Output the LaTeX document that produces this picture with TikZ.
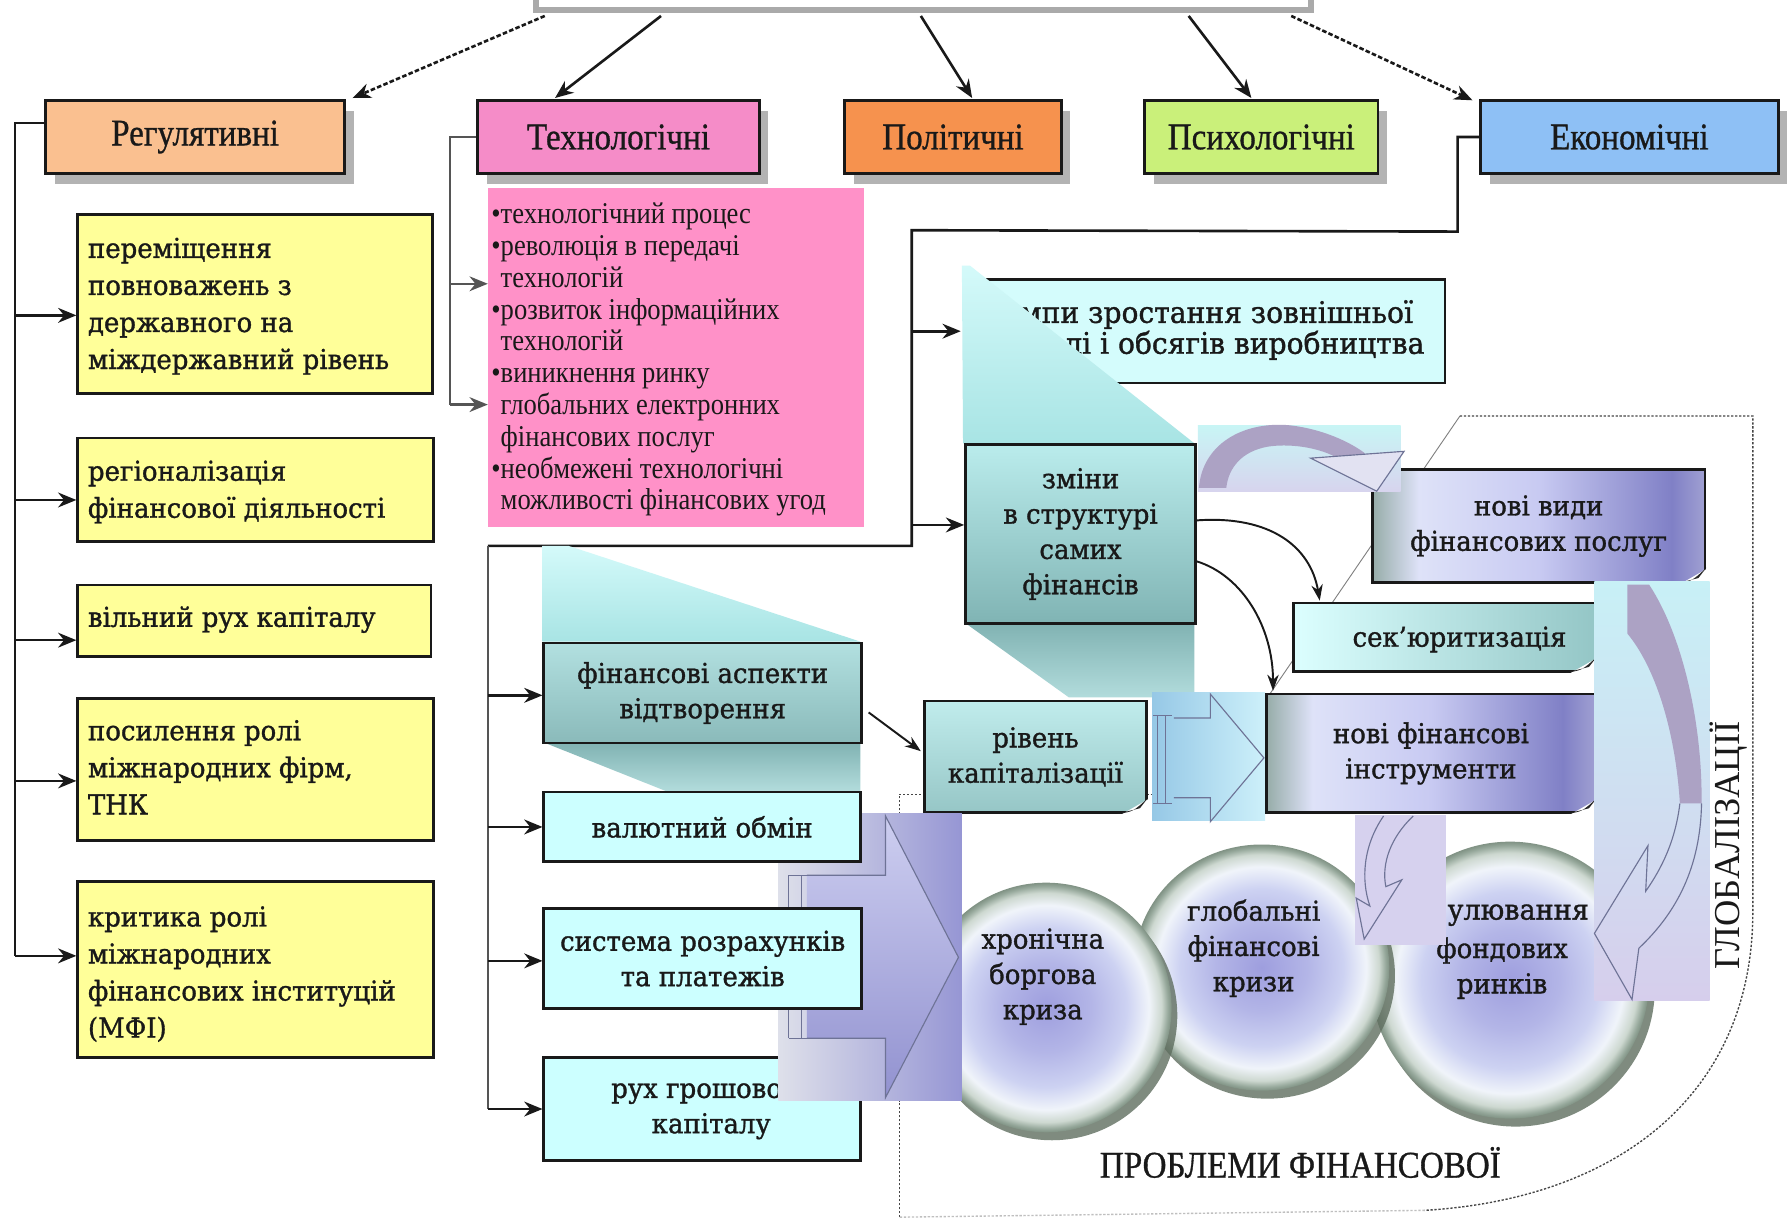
\documentclass[tikz,border=0pt]{standalone}
\usepackage{fontspec}
\setmainfont{Liberation Serif}
\newfontfamily\catf{Liberation Serif}[FakeStretch=0.88,FakeBold=0.8]
\newfontfamily\pinkf{Liberation Serif}[FakeStretch=0.88]
\newfontfamily\boxf{DejaVu Serif}[FakeStretch=0.95,FakeBold=1.2]
\usetikzlibrary{arrows.meta,shadows,calc,shapes.geometric}
\definecolor{ink}{RGB}{25,25,25}
\definecolor{cReg}{RGB}{250,192,144}
\definecolor{cTech}{RGB}{245,140,200}
\definecolor{cPol}{RGB}{246,146,78}
\definecolor{cPsy}{RGB}{202,240,122}
\definecolor{cEko}{RGB}{142,192,245}
\definecolor{cYel}{RGB}{255,255,153}
\definecolor{cPink}{RGB}{255,145,200}
\definecolor{cCyan}{RGB}{204,255,255}
\definecolor{tmA}{RGB}{212,252,252}
\definecolor{tlA}{RGB}{186,236,236}
\definecolor{tlB}{RGB}{128,180,180}
\definecolor{p1A}{RGB}{212,250,250}
\definecolor{p1B}{RGB}{168,228,228}
\definecolor{p2A}{RGB}{128,178,178}
\definecolor{p2B}{RGB}{178,220,220}
\definecolor{lvA}{RGB}{150,172,168}
\definecolor{lvB}{RGB}{222,226,248}
\definecolor{lvC}{RGB}{200,202,242}
\definecolor{lvD}{RGB}{128,128,198}
\definecolor{lvE}{RGB}{160,160,210}
\definecolor{skA}{RGB}{220,255,255}
\definecolor{skB}{RGB}{148,198,198}
\definecolor{sphC}{RGB}{158,158,222}
\definecolor{sphM}{RGB}{205,210,242}
\definecolor{sphL}{RGB}{240,244,250}
\definecolor{sphR1}{RGB}{205,216,208}
\definecolor{sphR2}{RGB}{150,168,155}
\definecolor{sphR3}{RGB}{128,146,132}
\definecolor{shg}{RGB}{95,110,95}
\definecolor{arrl}{RGB}{110,115,150}
\definecolor{bodyc}{RGB}{172,162,196}
\definecolor{lineg}{RGB}{85,85,85}
\definecolor{lavR1}{RGB}{222,224,234}
\definecolor{lavR2}{RGB}{150,150,212}
\definecolor{lavS1}{RGB}{205,206,240}
\definecolor{lavS2}{RGB}{146,146,208}
\definecolor{blA}{RGB}{150,200,230}
\definecolor{blB}{RGB}{205,240,250}
\definecolor{ca1}{RGB}{200,245,245}
\definecolor{ca2}{RGB}{215,212,238}
\definecolor{ca3}{RGB}{200,240,246}
\definecolor{ca4}{RGB}{214,206,236}
\definecolor{dnr}{RGB}{214,209,238}
\definecolor{headf}{RGB}{226,226,242}
\pgfdeclareradialshading{sphere}{\pgfpoint{0bp}{0bp}}{color(0bp)=(sphC); color(9bp)=(sphC!55!sphM); color(16bp)=(sphM); color(20.5bp)=(sphL); color(23bp)=(sphR1); color(24.3bp)=(sphR2); color(25bp)=(sphR3); color(50bp)=(sphR3)}
\pgfdeclarehorizontalshading{lavbox}{100bp}{color(0bp)=(lvA); color(25bp)=(lvA); color(32bp)=(lvB); color(50bp)=(lvC); color(70bp)=(lvD); color(75bp)=(lvE); color(100bp)=(lvE)}
\pgfdeclarelayer{back}
\pgfdeclarelayer{lines}
\pgfsetlayers{back,lines,main}
\newcommand\foldcorner[1]{%
  \fill[white] ($(#1.south east)+(-26,2)$) -- ($(#1.south east)+(2,2)$) -- ($(#1.south east)+(2,-14)$) -- cycle;
  \fill[gray!30!black] ($(#1.south east)+(-27,0)$) .. controls ($(#1.south east)+(-13,-2)$) .. ($(#1.south east)+(0,-14)$) -- ($(#1.south east)+(-7,-5)$) -- cycle;}
\begin{document}
\begin{tikzpicture}[x=1pt,y=-1pt,
  catbox/.style={draw=ink, line width=2.4pt, anchor=north west, minimum height=64pt, inner sep=0pt,
    font=\catf\fontsize{33}{36}\selectfont, text=ink,
    drop shadow={shadow xshift=8pt, shadow yshift=-9pt, fill=gray!70, opacity=0.85}},
  ybox/.style={draw=ink, line width=2.4pt, fill=cYel, anchor=north west, inner sep=0pt},
  ytext/.style={anchor=west, align=left, inner sep=0pt, font=\boxf\fontsize{24}{32.5}\selectfont, text=ink},
  cbox/.style={draw=ink, line width=2.2pt, anchor=north west, inner sep=0pt, align=center,
    font=\boxf\fontsize{24}{31}\selectfont, text=ink},
  txt/.style={align=center, inner sep=0pt, font=\boxf\fontsize{24}{31}\selectfont, text=ink},
  conn/.style={line width=2.3pt, draw=ink, -{Stealth[length=16pt,width=13pt]}},
  conng/.style={line width=2.1pt, draw=lineg, -{Stealth[length=16pt,width=13pt]}},
  brk/.style={line width=2.3pt, draw=ink},
  brkg/.style={line width=2.1pt, draw=lineg},
  thinarr/.style={line width=1.7pt, draw=ink, -{Stealth[length=14pt,width=10pt]}},
  arrline/.style={draw=arrl, line width=1pt},
  sph/.style={ellipse, inner sep=0pt, shading=sphere, shade,
    drop shadow={shadow xshift=5pt, shadow yshift=-7pt, fill=shg, opacity=0.8}},
  outl/.style={draw={rgb,255:red,70;green,70;blue,70}, line width=1.2pt, dash pattern=on 2pt off 1.5pt}
]
\clip (0,0) rectangle (1568,1068.7);
\begin{pgfonlayer}{back}
\fill[white] (0,0) rectangle (1568,1068.7);
\end{pgfonlayer}

% ---------------- top box and category boxes ----------------
\node[draw={rgb,255:red,170;green,170;blue,170}, line width=5pt, fill=white, minimum width=680pt,
  minimum height=60pt, inner sep=0pt, anchor=south west] (top) at (468,11) {};
\node[catbox, fill=cReg, minimum width=262pt] (reg) at (39,87) {Регулятивні};
\node[catbox, fill=cTech, minimum width=247pt] (tech) at (418,87) {Технологічні};
\node[catbox, fill=cPol, minimum width=190pt] (pol) at (740,87) {Політичні};
\node[catbox, fill=cPsy, minimum width=205pt] (psy) at (1003,87) {Психологічні};
\node[catbox, fill=cEko, minimum width=261pt] (eko) at (1298,87) {Економічні};

% ---------------- yellow boxes ----------------
\node[ybox, minimum width=311pt, minimum height=157pt] (y1) at (67,187) {};
\node[ytext] (y1t) at ($(y1.west)+(10,2)$) {переміщення\\повноважень з\\державного на\\міждержавний рівень};
\node[ybox, minimum width=312pt, minimum height=91pt] (y2) at (67,383) {};
\node[ytext] (y2t) at ($(y2.west)+(10,2)$) {регіоналізація\\фінансової діяльності};
\node[ybox, minimum width=310pt, minimum height=63pt] (y3) at (67,512) {};
\node[ytext] (y3t) at ($(y3.west)+(10,-1)$) {вільний рух капіталу};
\node[ybox, minimum width=312pt, minimum height=124pt] (y4) at (67,612) {};
\node[ytext] (y4t) at ($(y4.west)+(10,-2)$) {посилення ролі\\міжнародних фірм,\\ТНК};
\node[ybox, minimum width=312pt, minimum height=155pt] (y5) at (67,772) {};
\node[ytext] (y5t) at ($(y5.west)+(10,4)$) {критика ролі\\міжнародних\\фінансових інституцій\\(МФІ)};

% ---------------- pink box ----------------
\node[fill=cPink, anchor=north west, minimum width=330pt, minimum height=297pt, inner sep=0pt] (pink) at (428,165) {};
\node[anchor=west, align=left, inner sep=0pt, font=\pinkf\fontsize{26.5}{27.9}\selectfont, text=ink] (pinkt)
  at ($(pink.west)+(3,2)$) {•технологічний процес\\•революція в передачі\\\phantom{•}технологій\\•розвиток інформаційних\\\phantom{•}технологій\\•виникнення ринку\\\phantom{•}глобальних електронних\\\phantom{•}фінансових послуг\\•необмежені технологічні\\\phantom{•}можливості фінансових угод};

% ---------------- economic branch ----------------
\node[cbox, fill=tmA, minimum width=404pt, minimum height=91pt] (temp) at (863,244) {};
\node[txt, anchor=east, font=\boxf\fontsize{26}{27}\selectfont] (tempt1) at (1240,276) {мпи зростання зовнішньої};
\node[txt, anchor=east, font=\boxf\fontsize{26}{27}\selectfont] (tempt2) at (1250,303) {лі і обсягів виробництва};
\shade[top color=p1A, bottom color=p1B] (844,233) -- (851,233) -- (1048,389) -- (845,389) -- cycle;
\shade[top color=p2A, bottom color=p2B] (846,546) -- (1048,546) -- (1048,612) -- (938,612) -- cycle;
\shade[top color=p1A, bottom color=p1B] (476,479) -- (499,479) -- (755,563) -- (476,563) -- cycle;
\shade[top color=p2A, bottom color=p2B] (476,651) -- (755,651) -- (755,694) -- (584,694) -- cycle;

\node[cbox, top color=tlA, bottom color=tlB, minimum width=202pt, minimum height=157pt] (zm) at (846,389) {зміни\\в структурі\\самих\\фінансів};
\node[cbox, top color={rgb,255:red,178;green,224;blue,224}, bottom color={rgb,255:red,138;green,186;blue,186}, minimum width=279pt, minimum height=88pt] (fin) at (476,563) {фінансові аспекти\\відтворення};
\node[cbox, top color={rgb,255:red,192;green,236;blue,236}, bottom color={rgb,255:red,150;green,198;blue,198}, minimum width=195pt, minimum height=98pt] (riv) at (810,614) {рівень\\капіталізації};
\foldcorner{riv}
\node[cbox, fill=cCyan, minimum width=278pt, minimum height=90pt] (ruh) at (476,927) {};
\node[txt] (ruht) at ($(ruh.center)+(8,2)$) {рух грошового\\капіталу};

% ---------------- circles ----------------
\node[sph, minimum width=244pt, minimum height=243pt] (c3) at (1325,860) {};
\node[sph, minimum width=224pt, minimum height=216pt] (c2) at (1107,849) {};
\node[sph, minimum width=220pt, minimum height=219pt] (c1) at (918,884) {};
\node[txt] (c1t) at (915,857) {хронічна\\боргова\\криза};
\node[txt] (c2t) at (1100,832) {глобальні\\фінансові\\кризи};
\node[txt, anchor=west, font=\boxf\fontsize{25}{31}\selectfont] (c3t1) at (1270,803) {улювання};
\node[txt] (c3t) at (1318,849.5) {фондових\\ринків};

% ---------------- big lavender block arrow ----------------
\shade[left color=lavR1, right color=lavR2] (683,714) rectangle (844,966);
\shade[top color=lavS1, bottom color=lavS2] (708,768) -- (777,768) -- (777,716) -- (841,840) -- (777,963) -- (777,911) -- (708,911) -- cycle;
\draw[arrline] (708,768) -- (777,768) -- (777,716) -- (841,840) -- (777,963) -- (777,911) -- (708,911);
\draw[arrline] (692,768) -- (708,768) (692,911) -- (708,911) (692,768) -- (692,911) (703,768) -- (703,911);

\node[cbox, fill=cCyan, minimum width=278pt, minimum height=61pt] (val) at (476,694) {валютний обмін};
\node[cbox, fill=cCyan, minimum width=279pt, minimum height=88pt] (sys) at (476,796) {система розрахунків\\та платежів};

% ---------------- light blue block arrow ----------------
\shade[left color=blA, right color=blB] (1011,608) rectangle (1110,720);
\draw[arrline] (1030,630) -- (1062,630) -- (1062,609) -- (1109,665) -- (1062,721) -- (1062,700) -- (1030,700);
\draw[arrline] (1016,628) -- (1016,705) (1023,628) -- (1023,705) (1012,628) -- (1028,628) (1012,705) -- (1028,705);

% ---------------- lavender boxes ----------------
\node[cbox, shade, shading=lavbox, minimum width=292pt, minimum height=99pt] (nv) at (1203,411) {нові види\\фінансових послуг};
\foldcorner{nv}
\node[cbox, left color=skA, right color=skB, minimum width=265pt, minimum height=60pt] (sek) at (1134,528) {};
\node[txt] (sekt) at ($(sek.center)+(13,2)$) {сек’юритизація};
\foldcorner{sek}
\node[cbox, shade, shading=lavbox, minimum width=289pt, minimum height=104pt] (nf) at (1110,608) {нові фінансові\\інструменти};
\foldcorner{nf}

% ---------------- curved block arrows ----------------
\shade[top color=ca1, bottom color=ca2] (1051,373) rectangle (1229,431);
\fill[bodyc] (1052,428) .. controls (1055,390) and (1090,370) .. (1130,373) .. controls (1160,376) and (1185,388) .. (1198,398)
  -- (1172,401) .. controls (1155,392) and (1130,389) .. (1112,392) .. controls (1090,396) and (1078,410) .. (1076,428) -- cycle;
\filldraw[fill=headf, draw=arrl, line width=1pt] (1150,402) -- (1208,431) -- (1232,396) -- cycle;

\shade[top color=ca3, bottom color=ca4] (1399,510) rectangle (1500,878);
\fill[bodyc] (1428,513) -- (1447,513) .. controls (1478,560) and (1494,640) .. (1493,705) -- (1474,705)
  .. controls (1470,640) and (1452,585) .. (1428,556) -- cycle;
\draw[arrline] (1474,705) .. controls (1470,738) and (1458,762) .. (1444,782) -- (1446,742) -- (1399,819)
  -- (1432,877) -- (1438,832) .. controls (1472,800) and (1492,760) .. (1493,705);

\fill[dnr] (1189,715) rectangle (1269,829);
\draw[arrline] (1214,716) .. controls (1196,742) and (1194,772) .. (1202,795) -- (1190,788) -- (1197,824)
  -- (1230,772) -- (1216,778) .. controls (1212,758) and (1220,735) .. (1240,716);

% ---------------- thin curved arrows ----------------
\draw[thinarr] ($(zm.east)+(0,-12)$) .. controls (1115,452) and (1150,480) .. ($(sek.north west)+(24,-1)$);
\draw[thinarr] ($(zm.east)+(0,24)$) .. controls (1090,505) and (1117,550) .. ($(nf.north west)+(7,-2)$);
\draw[thinarr] ($(fin.east)+(5,17)$) -- ($(riv.west)+(-2,-5)$);

% ---------------- labels ----------------
\node[inner sep=0pt, font=\catf\fontsize{33}{36}\selectfont, text=ink] (prob) at (1141,1020) {ПРОБЛЕМИ ФІНАНСОВОЇ};
\node[inner sep=0pt, rotate=90, font=\fontsize{32}{36}\selectfont, text=ink] (glob) at (1517,742) {ГЛОБАЛІЗАЦІЇ};

% ---------------- connectors (lines layer) ----------------
\begin{pgfonlayer}{lines}
\coordinate (t1) at ($(top.south west)+(10,3)$);
\coordinate (t2) at ($(top.south west)+(112,3)$);
\coordinate (t3) at ($(top.south west)+(340,3)$);
\coordinate (t4) at ($(top.south west)+(575,3)$);
\coordinate (t5) at ($(top.south west)+(665,3)$);
\draw[conn, dash pattern=on 4pt off 2pt] (t1) -- ($(reg.north east)+(6,-1)$);
\draw[conn] (t2) -- ($(tech.north west)+(69,-1)$);
\draw[conn] (t3) -- ($(pol.north west)+(113,-1)$);
\draw[conn] (t4) -- ($(psy.north west)+(95,-1)$);
\draw[conn, dash pattern=on 4pt off 2pt] (t5) -- ($(eko.north west)+(-6,1)$);
\coordinate (rb) at ($(reg.north west)+(-26,21)$);
\coordinate (y1a) at ($(y1.west)+(0,10)$);
\coordinate (y2a) at ($(y2.west)+(0,9)$);
\coordinate (y3a) at ($(y3.west)+(0,17)$);
\coordinate (y4a) at ($(y4.west)+(0,10)$);
\coordinate (y5a) at ($(y5.west)+(0,-12)$);
\draw[brk] ($(reg.north west)+(0,21)$) -- (rb) -- (rb |- y5a);
\foreach \p in {y1a,y2a,y3a,y4a,y5a} \draw[conn] (rb |- \p) -- (\p);
\coordinate (tb) at ($(tech.west)+(-23,0)$);
\coordinate (pa1) at ($(pink.north west)+(0,84)$);
\coordinate (pa2) at ($(pink.north west)+(0,190)$);
\draw[brkg] (tech.west) -- (tb) -- (tb |- pa2);
\draw[conng] (tb |- pa1) -- (pa1);
\draw[conng] (tb |- pa2) -- (pa2);
\coordinate (eb1) at ($(eko.west)+(-19,0)$);
\coordinate (eb2) at ($(eb1)+(0,83)$);
\coordinate (eb3) at (800,202);
\coordinate (eb4) at (800,479);
\coordinate (eb5) at (428,479);
\coordinate (tma) at ($(temp.west)+(-20,0)$);
\coordinate (zma) at ($(zm.west)+(0,-8)$);
\coordinate (fina) at ($(fin.west)+(0,2)$);
\coordinate (sysa) at ($(sys.west)+(0,2)$);
\draw[brk] (eko.west) -- (eb1) -- (eb2) -- (eb3) -- (eb4) -- (eb5);
\draw[brkg] (eb5) -- (eb5 |- ruh.west);
\draw[conn] (eb3 |- tma) -- (tma);
\draw[conn] (eb3 |- zma) -- (zma);
\draw[conn] (eb5 |- fina) -- (fina);
\draw[conn] (eb5 |- val.west) -- (val.west);
\draw[conn] (eb5 |- sysa) -- (sysa);
\draw[conn] (eb5 |- ruh.west) -- (ruh.west);
\end{pgfonlayer}

% ---------------- dashed outline (back layer) ----------------
\begin{pgfonlayer}{back}
\draw[outl] (789,1068) -- (789,697) -- (1054,697);
\draw[line width=0.8pt, draw=gray] (1054,697) -- (1281,365);
\draw[outl] (1281,365) -- (1538,365) -- (1538,800) .. controls (1538,960) and (1420,1052) .. (1250,1062);
\draw[outl, draw=gray!50] (1250,1062) -- (789,1068);
\end{pgfonlayer}
\end{tikzpicture}
\end{document}
